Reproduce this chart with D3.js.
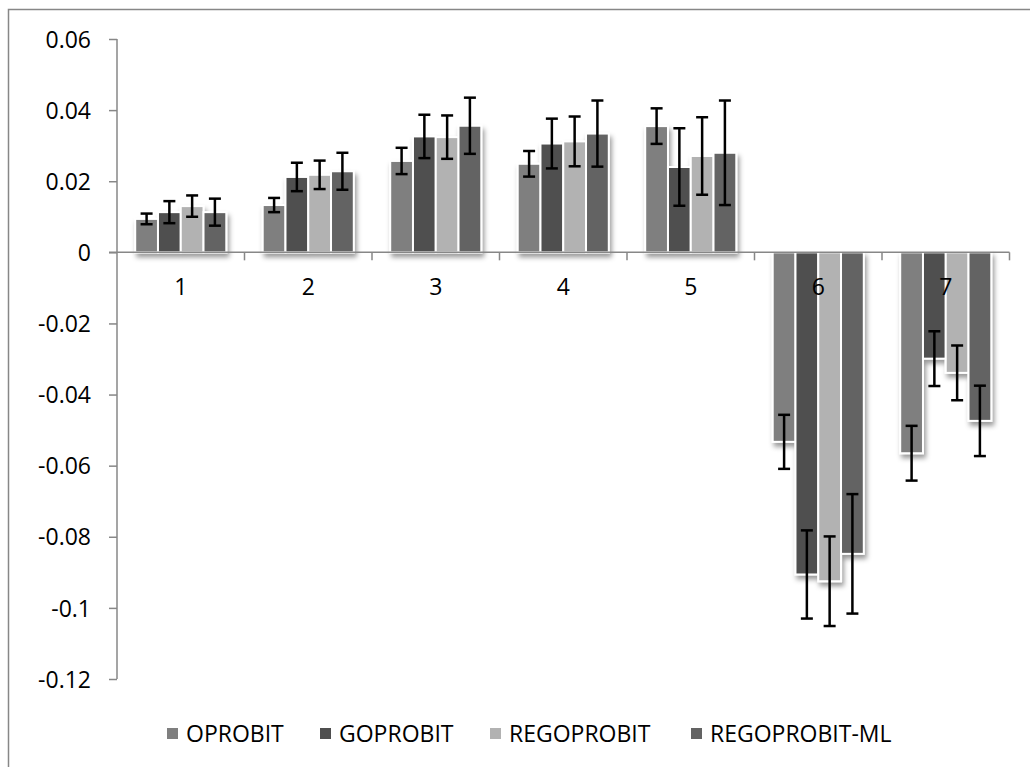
<!DOCTYPE html>
<html>
<head>
<meta charset="utf-8">
<script src="https://cdn.jsdelivr.net/npm/d3@7"></script>
<style>
  html, body { margin: 0; padding: 0; background: #fff; }
  svg { display: block; }
  text { font-family: "Open Sans", "Noto Sans", sans-serif; fill: #000; }
</style>
</head>
<body>
<svg id="chart" width="1030" height="767"></svg>
<script>
// ---- data ----
const categories = ["1", "2", "3", "4", "5", "6", "7"];
const seriesNames = ["OPROBIT", "GOPROBIT", "REGOPROBIT", "REGOPROBIT-ML"];
const oprobit      = [0.0094, 0.0133, 0.0257, 0.0249, 0.0355, -0.0533, -0.0565];
const goprobit     = [0.0113, 0.0212, 0.0326, 0.0306, 0.0240, -0.0906, -0.0299];
const regoprobit   = [0.0130, 0.0218, 0.0324, 0.0312, 0.0271, -0.0925, -0.0339];
const regoprobitMl = [0.0113, 0.0228, 0.0356, 0.0334, 0.0280, -0.0848, -0.0474];
const oprobitErr      = [0.0015, 0.0020, 0.0037, 0.0036, 0.0050, 0.0076, 0.0077];
const goprobitErr     = [0.0031, 0.0040, 0.0061, 0.0070, 0.0109, 0.0124, 0.0077];
const regoprobitErr   = [0.0030, 0.0040, 0.0061, 0.0070, 0.0109, 0.0126, 0.0077];
const regoprobitMlErr = [0.0038, 0.0052, 0.0079, 0.0093, 0.0147, 0.0168, 0.0099];
const yTickValues = [0.06, 0.04, 0.02, 0, -0.02, -0.04, -0.06, -0.08, -0.1, -0.12];
const yTickLabels = ["0.06", "0.04", "0.02", "0", "-0.02", "-0.04", "-0.06", "-0.08", "-0.1", "-0.12"];

const seriesValues = [oprobit, goprobit, regoprobit, regoprobitMl];
const seriesErrors = [oprobitErr, goprobitErr, regoprobitErr, regoprobitMlErr];
const colors = ["#7f7f7f", "#4f4f4f", "#b2b2b2", "#636363"];

// ---- layout ----
const svg = d3.select("#chart");
const plot = { left: 117, right: 1009.5, top: 39, bottom: 679 };
const axisColor = "#878787";
const fontSize = 23;
const capHalf = fontSize * 0.357;

// outer frame (right/bottom edges fall outside the picture)
svg.append("rect")
  .attr("x", 8.5).attr("y", 9.5)
  .attr("width", 1060).attr("height", 800)
  .attr("fill", "none").attr("stroke", axisColor).attr("stroke-width", 1.5);

const defs = svg.append("defs");
const f = defs.append("filter").attr("id", "shadow")
  .attr("x", "-30%").attr("y", "-10%").attr("width", "160%").attr("height", "130%");
f.append("feDropShadow").attr("dx", 2).attr("dy", 4).attr("stdDeviation", 2.5)
  .attr("flood-color", "#000").attr("flood-opacity", 0.4);

const y = d3.scaleLinear().domain([-0.12, 0.06]).range([plot.bottom, plot.top]);
const x0 = d3.scaleBand().domain(categories).range([plot.left, plot.right]).paddingInner(0).paddingOuter(0);
const x1 = d3.scaleBand().domain(seriesNames).range([0, x0.bandwidth()]).paddingInner(0).paddingOuter(0.8);

// y axis
const yAxis = d3.axisLeft(y).tickValues(yTickValues).tickSize(8)
  .tickFormat((d, i) => yTickLabels[i]);
const gy = svg.append("g").attr("transform", `translate(${plot.left},0)`).call(yAxis);
gy.select(".domain").remove();
gy.append("line").attr("x1", 0).attr("x2", 0).attr("y1", plot.top).attr("y2", plot.bottom)
  .attr("stroke", axisColor).attr("stroke-width", 1.5);
gy.selectAll(".tick line").attr("stroke", axisColor).attr("stroke-width", 1.5);
gy.selectAll(".tick text")
  .attr("x", -26).attr("dy", null).attr("y", capHalf)
  .style("font-size", fontSize + "px").style("font-family", '"Open Sans", sans-serif')
  .attr("fill", "#000");

// bars
const rows = [];
categories.forEach((c, ci) => {
  seriesNames.forEach((s, si) => {
    rows.push({ cat: c, ser: s, si, v: seriesValues[si][ci], e: seriesErrors[si][ci] });
  });
});

const bars = svg.append("g").attr("filter", "url(#shadow)");
bars.selectAll("rect").data(rows).join("rect")
  .attr("x", d => x0(d.cat) + x1(d.ser))
  .attr("width", x1.bandwidth())
  .attr("y", d => y(Math.max(0, d.v)))
  .attr("height", d => Math.abs(y(d.v) - y(0)))
  .attr("fill", d => colors[d.si])
  .attr("stroke", "#fff").attr("stroke-width", 2);

// x axis at zero
const xAxisG = svg.append("g");
xAxisG.append("line").attr("x1", plot.left - 8).attr("x2", plot.right)
  .attr("y1", y(0)).attr("y2", y(0)).attr("stroke", axisColor).attr("stroke-width", 1.5);
const boundaries = categories.map(c => x0(c)).concat([x0(categories[categories.length - 1]) + x0.bandwidth()]);
xAxisG.selectAll("line.tk").data(boundaries.slice(1)).join("line").attr("class", "tk")
  .attr("x1", d => d).attr("x2", d => d)
  .attr("y1", y(0)).attr("y2", y(0) + 8)
  .attr("stroke", axisColor).attr("stroke-width", 1.5);

// error bars
const eb = svg.append("g").attr("stroke", "#000").attr("stroke-width", 2.5);
const capW = 12;
rows.forEach(d => {
  const cx = x0(d.cat) + x1(d.ser) + x1.bandwidth() / 2;
  const yHi = y(d.v + d.e), yLo = y(d.v - d.e);
  eb.append("line").attr("x1", cx).attr("x2", cx).attr("y1", yHi).attr("y2", yLo);
  eb.append("line").attr("x1", cx - capW / 2).attr("x2", cx + capW / 2).attr("y1", yHi).attr("y2", yHi);
  eb.append("line").attr("x1", cx - capW / 2).attr("x2", cx + capW / 2).attr("y1", yLo).attr("y2", yLo);
});

// category labels
svg.append("g").selectAll("text").data(categories).join("text")
  .attr("x", d => x0(d) + x0.bandwidth() / 2)
  .attr("y", y(0) + 34 + capHalf)
  .attr("text-anchor", "middle")
  .style("font-size", fontSize + "px")
  .text(d => d);

// legend
const legendX = [167, 320, 490, 691];
const legY = 733.5;
const lg = svg.append("g");
seriesNames.forEach((s, i) => {
  lg.append("rect").attr("x", legendX[i]).attr("y", legY - 5.5).attr("width", 11).attr("height", 11)
    .attr("fill", colors[i]);
  lg.append("text").attr("x", legendX[i] + 19).attr("y", legY + capHalf)
    .style("font-size", fontSize + "px").text(s);
});
</script>
</body>
</html>
